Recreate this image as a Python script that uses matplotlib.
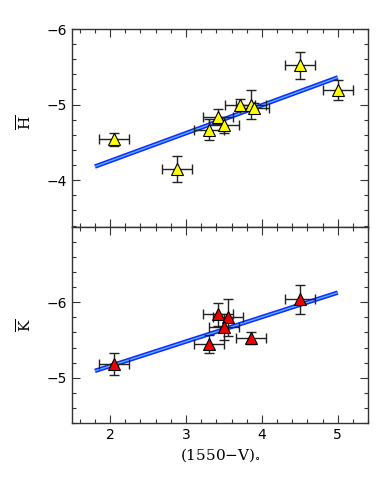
import matplotlib.pyplot as plt
from matplotlib.ticker import MultipleLocator

plt.rcParams['mathtext.fontset'] = 'dejavuserif'

# H panel (yellow)
h_x = [2.05, 2.88, 3.30, 3.42, 3.50, 3.71, 3.86, 3.90, 4.50, 5.00]
h_y = [-4.54, -4.15, -4.67, -4.84, -4.73, -5.00, -5.00, -4.96, -5.52, -5.19]
h_xerr = [0.20, 0.20, 0.20, 0.20, 0.20, 0.20, 0.20, 0.19, 0.20, 0.20]
h_yerr = [0.09, 0.17, 0.14, 0.10, 0.11, 0.08, 0.19, 0.06, 0.18, 0.13]
h_fit_x = [1.8, 5.0]
h_fit_y = [-4.18, -5.36]

# K panel (red)
k_x = [2.05, 3.30, 3.42, 3.55, 3.50, 3.86, 4.50]
k_y = [-5.18, -5.45, -5.84, -5.80, -5.67, -5.53, -6.04]
k_xerr = [0.20, 0.20, 0.20, 0.20, 0.20, 0.20, 0.20]
k_yerr = [0.15, 0.12, 0.15, 0.24, 0.17, 0.08, 0.19]
k_fit_x = [1.8, 5.0]
k_fit_y = [-5.09, -6.13]

fig = plt.figure(figsize=(3.9, 4.8), dpi=100)
ax1 = fig.add_axes([0.185, 0.527, 0.759, 0.4125])
ax2 = fig.add_axes([0.185, 0.119, 0.759, 0.408])


def panel(ax, x, y, xerr, yerr, fx, fy, color, ylim):
    ax.plot(fx, fy, color='#1428ff', lw=3.2, zorder=2, solid_capstyle='butt')
    ax.plot(fx, fy, color='#4fb4ff', lw=1.0, zorder=2, solid_capstyle='butt')
    ax.errorbar(x, y, xerr=xerr, yerr=yerr, fmt='none', ecolor='#222222',
                elinewidth=1.0, capsize=3.5, capthick=1.0, zorder=3)
    ax.plot(x, y, '^', ms=9, mfc=color, mec='black', mew=0.8, zorder=4)
    ax.set_xlim(1.5, 5.4)
    ax.set_ylim(*ylim)
    ax.xaxis.set_major_locator(MultipleLocator(1))
    ax.xaxis.set_minor_locator(MultipleLocator(0.2))
    ax.yaxis.set_major_locator(MultipleLocator(1))
    ax.yaxis.set_minor_locator(MultipleLocator(0.2))
    ax.tick_params(which='both', direction='in', top=True, right=True,
                   color='#333333', labelsize=10)
    ax.tick_params(which='major', length=6, width=0.8)
    ax.tick_params(which='minor', length=3, width=0.8)
    for s in ax.spines.values():
        s.set_color('#333333')
        s.set_linewidth(1.0)


panel(ax1, h_x, h_y, h_xerr, h_yerr, h_fit_x, h_fit_y, '#ffff00', (-3.38, -6.0))
panel(ax2, k_x, k_y, k_xerr, k_yerr, k_fit_x, k_fit_y, '#ee0000', (-4.4, -7.0))

ax1.set_yticks([-6, -5, -4])
ax1.set_yticklabels(['\u22126', '\u22125', '\u22124'])
ax1.tick_params(labelbottom=False)
ax2.set_yticks([-7, -6, -5])
ax2.set_yticklabels(['', '\u22126', '\u22125'])
ax2.set_xticks([2, 3, 4, 5])

fig.text(0.065, 0.745, r'$\overline{\rm H}$', rotation=90, ha='center',
         va='center', fontsize=11)
fig.text(0.065, 0.323, r'$\overline{\rm K}$', rotation=90, ha='center',
         va='center', fontsize=11)
ax2.set_xlabel(r'$(1550{-}{\rm V})_{\circ}$', fontsize=11, labelpad=3)

fig.savefig('out.png', dpi=100)
